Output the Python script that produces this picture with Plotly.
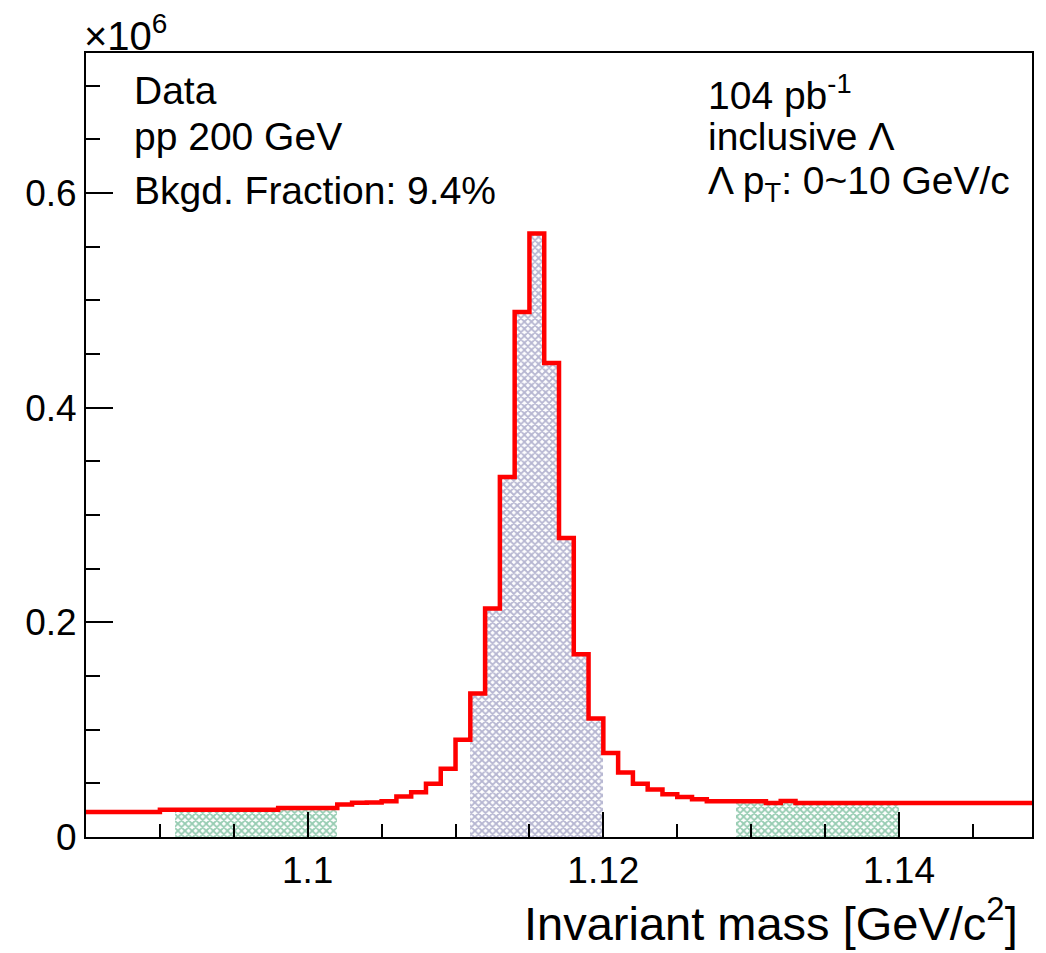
import plotly.graph_objects as go

# Histogram definition (Lambda invariant mass), counts in units of 10^6
bin_low = 1.085
bin_width = 0.001
counts = [
    0.0233, 0.0233, 0.0233, 0.0233, 0.0233,
    0.0255, 0.0255, 0.0255, 0.0255, 0.0255, 0.0255, 0.0255, 0.0255,
    0.0270, 0.0270, 0.0270, 0.0270,
    0.0302, 0.0320, 0.0322, 0.0333, 0.0378, 0.0416, 0.0497, 0.0637,
    0.0907, 0.1336, 0.2128, 0.3354, 0.4891, 0.5622, 0.4416, 0.2786,
    0.1702, 0.1103, 0.0783, 0.0600, 0.0497, 0.0442, 0.0398, 0.0373,
    0.0351, 0.0333, 0.0333, 0.0333, 0.0333, 0.0317, 0.0335,
    0.0317, 0.0317, 0.0317, 0.0317, 0.0317, 0.0317, 0.0317, 0.0317,
    0.0317, 0.0317, 0.0317, 0.0317, 0.0317, 0.0317, 0.0317, 0.0317,
]
signal_window = (1.111, 1.120)
sideband_left = (1.091, 1.102)
sideband_right = (1.129, 1.140)

x_tickvals = [1.10, 1.12, 1.14]
x_ticktext = ["1.1", "1.12", "1.14"]
y_tickvals = [0, 0.2, 0.4, 0.6]
y_ticktext = ["0", "0.2", "0.4", "0.6"]

left_texts = ["Data", "pp 200 GeV", "Bkgd. Fraction: 9.4%"]
right_texts = ["104 pb<sup>-1</sup>", "inclusive Λ", "Λ p<sub>T</sub>: 0~10 GeV/c"]
x_title = "Invariant mass [GeV/c<sup>2</sup>]"

nb = len(counts)
edges = [bin_low + i * bin_width for i in range(nb + 1)]
centers = [bin_low + (i + 0.5) * bin_width for i in range(nb)]

FONT = "Liberation Sans, Arial, Helvetica, sans-serif"

fig = go.Figure()


def hatch(window, color):
    xs = [c for c in centers if window[0] < c < window[1]]
    ys = [counts[i] for i, c in enumerate(centers) if window[0] < c < window[1]]
    fig.add_trace(go.Bar(
        x=xs, y=ys, width=bin_width,
        marker=dict(color="white", line=dict(width=0),
                    pattern=dict(shape="x", fgcolor=color, bgcolor="white",
                                 size=5, solidity=0.6)),
        showlegend=False, hoverinfo="skip"))


hatch(sideband_left, "#2f9a66")
hatch(signal_window, "#6e6ea4")
hatch(sideband_right, "#2f9a66")

# Step outline
xs = edges[:]
ys = counts + [counts[-1]]
fig.add_trace(go.Scatter(x=xs, y=ys, mode="lines", line=dict(color="#ff0000", width=4.5, shape="hv"),
                         showlegend=False, hoverinfo="skip"))

L, R, T, B = 86, 14, 53, 116
W, H = 1046, 953
pw, ph = W - L - R, H - T - B


def px(x):
    return (x - L) / pw


def py(y):
    return (H - B - y) / ph


annots = []
for txt, yc in zip(left_texts, [91, 137, 191]):
    annots.append(dict(text=txt, x=px(132), y=py(yc), xanchor="left", yanchor="middle"))
for txt, yc in zip(right_texts, [93, 137, 183]):
    annots.append(dict(text=txt, x=px(706), y=py(yc), xanchor="left", yanchor="middle"))
annots.append(dict(text=x_title, x=px(1020), y=py(920), xanchor="right", yanchor="middle",
                   font=dict(size=47, family=FONT, color="black")))
annots.append(dict(text="×10<sup>6</sup>", x=px(82), y=py(33), xanchor="left", yanchor="middle",
                   font=dict(size=40, family=FONT, color="black")))
for a in annots:
    a.update(xref="paper", yref="paper", showarrow=False)
    a.setdefault("font", dict(size=39, family=FONT, color="black"))

fig.update_layout(
    width=W, height=H,
    margin=dict(l=L, r=R, t=T, b=B, pad=0),
    paper_bgcolor="white", plot_bgcolor="white",
    barmode="overlay", bargap=0,
    font=dict(family=FONT, size=37, color="black"),
    annotations=annots,
)
fig.update_xaxes(
    range=[edges[0], edges[-1]],
    tickvals=x_tickvals, ticktext=x_ticktext,
    ticks="inside", ticklen=25, tickwidth=1.5, tickcolor="black",
    minor=dict(ticks="inside", dtick=0.005, tick0=1.1, ticklen=13, tickwidth=1.5, tickcolor="black"),
    showline=True, linecolor="black", linewidth=1.8, mirror=True,
    showgrid=False, zeroline=False,
    tickfont=dict(size=37, family=FONT, color="black"),
)
fig.update_yaxes(
    range=[0, 0.7304],
    tickvals=y_tickvals, ticktext=y_ticktext,
    ticks="inside", ticklen=27, tickwidth=1.5, tickcolor="black",
    minor=dict(ticks="inside", dtick=0.05, tick0=0, ticklen=14, tickwidth=1.5, tickcolor="black"),
    showline=True, linecolor="black", linewidth=1.8, mirror=True,
    showgrid=False, zeroline=False,
    tickfont=dict(size=37, family=FONT, color="black"),
)

fig.write_html("out.html")
